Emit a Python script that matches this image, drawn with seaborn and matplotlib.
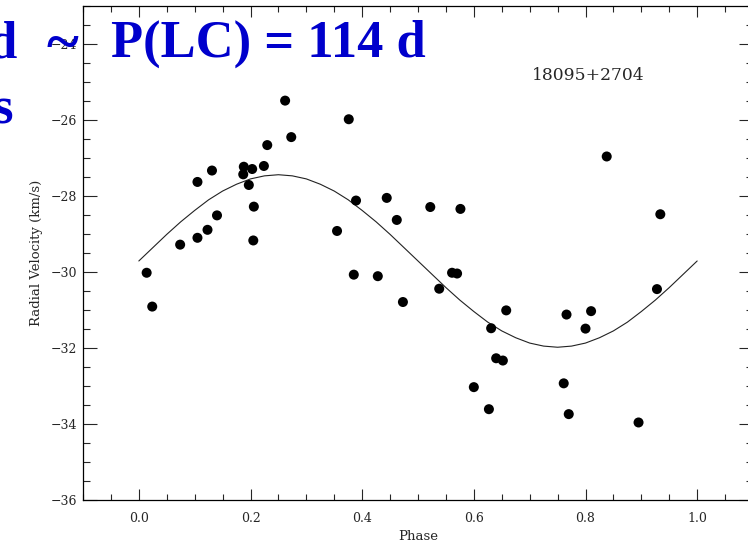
import matplotlib
matplotlib.use("Agg")
import matplotlib.pyplot as plt
import seaborn as sns
import pandas as pd
from matplotlib.ticker import MultipleLocator

# Observed radial velocities folded on the orbital phase
phase = [0.014, 0.024, 0.074, 0.105, 0.105, 0.123, 0.131, 0.140, 0.188, 0.203,
         0.187, 0.197, 0.206, 0.205, 0.224, 0.230, 0.262, 0.273, 0.355, 0.376,
         0.389, 0.385, 0.428, 0.444, 0.462, 0.473, 0.522, 0.538, 0.561, 0.570,
         0.576, 0.600, 0.627, 0.631, 0.640, 0.652, 0.658, 0.761, 0.766, 0.770,
         0.800, 0.810, 0.838, 0.895, 0.928, 0.934]
rv = [-30.02, -30.91, -29.28, -29.10, -27.63, -28.89, -27.33, -28.51, -27.23, -27.29,
      -27.43, -27.71, -28.28, -29.17, -27.21, -26.66, -25.49, -26.45, -28.92, -25.98,
      -28.12, -30.07, -30.11, -28.05, -28.63, -30.79, -28.29, -30.44, -30.02, -30.04,
      -28.34, -33.03, -33.61, -31.48, -32.27, -32.33, -31.01, -32.93, -31.12, -33.74,
      -31.49, -31.03, -26.96, -33.96, -30.45, -28.48]

# Orbital solution sampled over one cycle
fit_phase = [0.000, 0.025, 0.050, 0.075, 0.100, 0.125, 0.150, 0.175, 0.200, 0.225,
             0.250, 0.275, 0.300, 0.325, 0.350, 0.375, 0.400, 0.425, 0.450, 0.475,
             0.500, 0.525, 0.550, 0.575, 0.600, 0.625, 0.650, 0.675, 0.700, 0.725,
             0.750, 0.775, 0.800, 0.825, 0.850, 0.875, 0.900, 0.925, 0.950, 0.975,
             1.000]
fit_rv = [-29.71, -29.36, -29.01, -28.68, -28.38, -28.10, -27.87, -27.69, -27.55, -27.47,
          -27.44, -27.47, -27.55, -27.69, -27.87, -28.10, -28.38, -28.68, -29.01, -29.36,
          -29.71, -30.06, -30.41, -30.74, -31.04, -31.32, -31.55, -31.73, -31.87, -31.95,
          -31.98, -31.95, -31.87, -31.73, -31.55, -31.32, -31.04, -30.74, -30.41, -30.06,
          -29.71]

x_ticks = [0.0, 0.2, 0.4, 0.6, 0.8, 1.0]
y_ticks = [-36, -34, -32, -30, -28, -26, -24]

star_name = "18095+2704"
title_main = "P(LC) = 114 d"

sns.set_style("white")
plt.rcParams["font.family"] = ["DejaVu Serif"]

W, H = 748, 545
fig = plt.figure(figsize=(W / 100, H / 100), dpi=100)
ax = fig.add_axes([83 / W, 45 / H, 670 / W, 494 / H])

obs = pd.DataFrame({"Phase": phase, "RV": rv})
fit = pd.DataFrame({"Phase": fit_phase, "RV": fit_rv})

sns.lineplot(data=fit, x="Phase", y="RV", ax=ax, color="#222222", lw=0.8,
             sort=False, estimator=None)
sns.scatterplot(data=obs, x="Phase", y="RV", ax=ax, color="black", s=52,
                edgecolor="none", zorder=3)

ax.set_xlim(-0.1, 1.1)
ax.set_ylim(-36, -23)
ax.set_xticks(x_ticks)
ax.set_xticklabels([f"{t:.1f}" for t in x_ticks])
ax.set_yticks(y_ticks)
ax.set_yticklabels([f"\u2212{abs(t)}" for t in y_ticks])
ax.xaxis.set_minor_locator(MultipleLocator(0.05))
ax.yaxis.set_minor_locator(MultipleLocator(0.5))

ax.tick_params(axis="x", which="major", direction="in", length=8, width=0.8,
               top=True, bottom=True, labelsize=9, pad=9)
ax.tick_params(axis="x", which="minor", direction="in", length=4, width=0.8,
               top=True, bottom=True)
ax.tick_params(axis="y", which="major", direction="in", length=10, width=0.8,
               left=True, right=True, labelsize=9, pad=4)
ax.tick_params(axis="y", which="minor", direction="in", length=5, width=0.8,
               left=True, right=True)
for s in ax.spines.values():
    s.set_visible(True)
    s.set_color("black")
    s.set_linewidth(0.9)

ax.set_xlabel("Phase", fontsize=9.5, labelpad=3)
ax.set_ylabel("Radial Velocity (km/s)", fontsize=9.5, labelpad=6)

ax.text(0.805, -24.82, star_name, fontsize=12.3, ha="center", va="center")

# Slide heading drawn over the plot
blue = "#0000CC"
hfont = dict(family="Liberation Serif", weight="bold", color=blue)
fig.text(17 / W, 1 - 57 / H, "d", ha="right", va="baseline", size=38, **hfont)
fig.text(62 / W, 1 - 61 / H, "~", ha="center", va="baseline", size=44, **hfont)
fig.text(111 / W, 1 - 57 / H, title_main, ha="left", va="baseline", size=37.8, **hfont)
fig.text(13 / W, 1 - 123 / H, "s", ha="right", va="baseline", size=38, **hfont)

fig.savefig("out.png", dpi=100)
